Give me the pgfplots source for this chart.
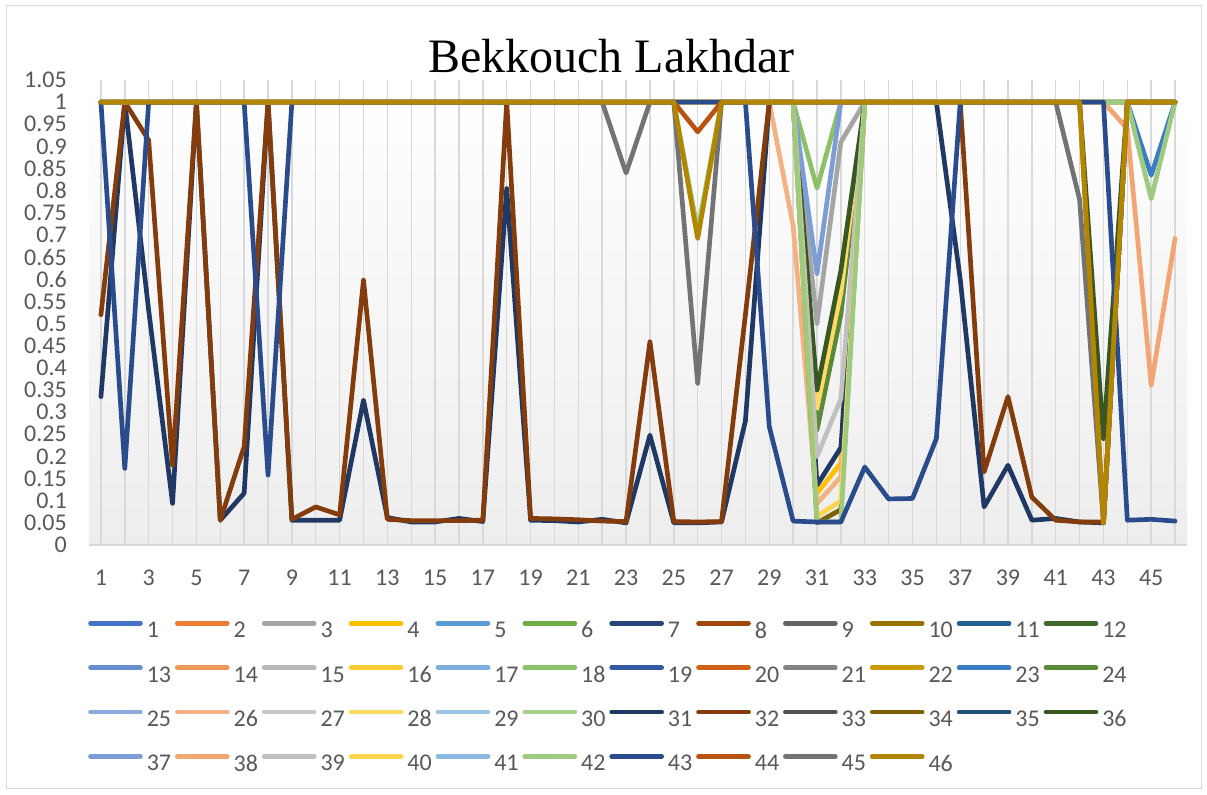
\documentclass[border=0pt]{standalone}
\usepackage{pgfplots}
\pgfplotsset{compat=1.18}
\usepackage{pgfplotstable}
\usepackage{fontspec}
\setmainfont{Carlito}
\newfontfamily\titlefont{Liberation Serif}
\definecolor{c1}{HTML}{4472C4}\definecolor{c2}{HTML}{ED7D31}\definecolor{c3}{HTML}{A5A5A5}
\definecolor{c4}{HTML}{FFC000}\definecolor{c5}{HTML}{5B9BD5}\definecolor{c6}{HTML}{70AD47}
\definecolor{c7}{HTML}{264478}\definecolor{c8}{HTML}{9E480E}\definecolor{c9}{HTML}{636363}
\definecolor{c10}{HTML}{997300}\definecolor{c11}{HTML}{255E91}\definecolor{c12}{HTML}{43682B}
\definecolor{c13}{HTML}{698ED0}\definecolor{c14}{HTML}{F1975A}\definecolor{c15}{HTML}{B7B7B7}
\definecolor{c16}{HTML}{FFCD33}\definecolor{c17}{HTML}{7CAFDD}\definecolor{c18}{HTML}{8CC168}
\definecolor{c19}{HTML}{335AA1}\definecolor{c20}{HTML}{D26012}\definecolor{c21}{HTML}{848484}
\definecolor{c22}{HTML}{CC9A00}\definecolor{c23}{HTML}{3A7DC2}\definecolor{c24}{HTML}{5A8A39}
\definecolor{c25}{HTML}{8FAADC}\definecolor{c26}{HTML}{F4B183}\definecolor{c27}{HTML}{C9C9C9}
\definecolor{c28}{HTML}{FFD966}\definecolor{c29}{HTML}{9DC3E6}\definecolor{c30}{HTML}{A9D18E}
\definecolor{c31}{HTML}{203864}\definecolor{c32}{HTML}{843C0C}\definecolor{c33}{HTML}{525252}
\definecolor{c34}{HTML}{7F6000}\definecolor{c35}{HTML}{1F4E79}\definecolor{c36}{HTML}{385723}
\definecolor{c37}{HTML}{7C9DD6}\definecolor{c38}{HTML}{F3A673}\definecolor{c39}{HTML}{C0C0C0}
\definecolor{c40}{HTML}{FFD44F}\definecolor{c41}{HTML}{8BB9E2}\definecolor{c42}{HTML}{9DCA7E}
\definecolor{c43}{HTML}{2B4C8C}\definecolor{c44}{HTML}{B85410}\definecolor{c45}{HTML}{737373}
\definecolor{c46}{HTML}{B38600}
\definecolor{gridc}{HTML}{D9D9D9}
\definecolor{tickc}{HTML}{595959}

\pgfplotstableread{
x y
1 1
2 1
3 1
4 1
5 1
6 1
7 1
8 1
9 1
10 1
11 1
12 1
13 1
14 1
15 1
16 1
17 1
18 1
19 1
20 1
21 1
22 1
23 1
24 1
25 1
26 1
27 1
28 1
29 1
30 1
31 1
32 1
33 1
34 1
35 1
36 1
37 1
38 1
39 1
40 1
41 1
42 1
43 1
44 1
45 1
46 1
}\ones

\begin{document}
\begin{tikzpicture}
\path[use as bounding box] (0,0) rectangle (905.25pt,595.5pt);
\fill[white] (0,0) rectangle (905.25pt,595.5pt);
\draw[gridc, line width=0.75pt] (4.5pt,4.5pt) rectangle (900.75pt,591pt);
\node[font=\titlefont\fontsize{36pt}{40pt}\selectfont, anchor=base] at (458.6pt,540.75pt) {Bekkouch Lakhdar};
\begin{axis}[
  at={(66.75pt,186.75pt)}, anchor=south west,
  scale only axis, width=823.5pt, height=348.75pt,
  xmin=0.5, xmax=46.5, ymin=0, ymax=1.05,
  axis x line*=bottom, axis y line*=left,
  x axis line style={draw=gridc, line width=1.1pt, -},
  y axis line style={draw=none, -},
  xtick={1,3,...,45}, minor xtick={2,4,...,46},
  xticklabels={1,3,5,7,9,11,13,15,17,19,21,23,25,27,29,31,33,35,37,39,41,43,45},
  ytick={0,0.05,0.1,0.15,0.2,0.25,0.3,0.35,0.4,0.45,0.5,0.55,0.6,0.65,0.7,0.75,0.8,0.85,0.9,0.95,1,1.05},
  yticklabels={0,0.05,0.1,0.15,0.2,0.25,0.3,0.35,0.4,0.45,0.5,0.55,0.6,0.65,0.7,0.75,0.8,0.85,0.9,0.95,1,1.05},
  xmajorgrids, xminorgrids,
  major grid style={draw=gridc, line width=1.1pt},
  minor grid style={draw=gridc, line width=1.1pt},
  major tick length=0pt, minor tick length=0pt, tick style={draw=none},
  tick label style={font=\fontsize{18pt}{21pt}\selectfont, text=tickc},
  yticklabel style={anchor=east, inner sep=0pt, xshift=-16.5pt},
  xticklabel style={anchor=north, inner sep=0pt, yshift=-18.75pt},
  axis background/.style={top color=white, bottom color=black!7},
  every axis plot/.append style={line width=3.5pt, line join=round, line cap=round},
  legend columns=12,
  legend cell align=left,
  legend image code/.code={\draw[#1, line width=3.5pt, line cap=round] (0pt,5.7pt) -- (37.5pt,5.7pt);},
  legend style={at={(axis description cs:-0.001,-0.1586)}, anchor=north west,
    draw=none, fill=none, inner sep=0pt,
    font=\fontsize{18pt}{21pt}\selectfont, text=tickc,
    row sep=15.5pt, nodes={inner sep=2pt},
    /tikz/every odd column/.append style={column sep=1pt},
    /tikz/every even column/.append style={column sep=0.9pt}},
  legend entries={1,2,3,4,5,6,7,8,9,10,11,12,13,14,15,16,17,18,19,20,21,22,23,24,25,26,27,28,29,30,31,32,33,34,35,36,37,38,39,40,41,42,43,44,45,46},
]
% 1-2
\addplot[c1] table {\ones};
\addplot[c2] table {\ones};
% 3
\addplot[c3] coordinates {(1,1)(2,1)(3,1)(4,1)(5,1)(6,1)(7,1)(8,1)(9,1)(10,1)
(11,1)(12,1)(13,1)(14,1)(15,1)(16,1)(17,1)(18,1)(19,1)(20,1)
(21,1)(22,1)(23,1)(24,1)(25,1)(26,1)(27,1)(28,1)(29,1)(30,1)
(31,0.50)(32,0.91)(33,1)(34,1)(35,1)(36,1)(37,1)(38,1)(39,1)(40,1)
(41,1)(42,1)(43,1)(44,1)(45,1)(46,1)};
% 4
\addplot[c4] coordinates {(1,1)(2,1)(3,1)(4,1)(5,1)(6,1)(7,1)(8,1)(9,1)(10,1)
(11,1)(12,1)(13,1)(14,1)(15,1)(16,1)(17,1)(18,1)(19,1)(20,1)
(21,1)(22,1)(23,1)(24,1)(25,1)(26,1)(27,1)(28,1)(29,1)(30,1)
(31,0.117)(32,0.185)(33,1)(34,1)(35,1)(36,1)(37,1)(38,1)(39,1)(40,1)
(41,1)(42,1)(43,1)(44,1)(45,1)(46,1)};
% 5-17
\addplot[c5] table {\ones};
\addplot[c6] table {\ones};
\addplot[c7] table {\ones};
\addplot[c8] table {\ones};
\addplot[c9] table {\ones};
\addplot[c10] table {\ones};
\addplot[c11] table {\ones};
\addplot[c12] table {\ones};
\addplot[c13] table {\ones};
\addplot[c14] table {\ones};
\addplot[c15] table {\ones};
\addplot[c16] table {\ones};
\addplot[c17] table {\ones};
% 18
\addplot[c18] coordinates {(1,1)(2,1)(3,1)(4,1)(5,1)(6,1)(7,1)(8,1)(9,1)(10,1)
(11,1)(12,1)(13,1)(14,1)(15,1)(16,1)(17,1)(18,1)(19,1)(20,1)
(21,1)(22,1)(23,1)(24,1)(25,1)(26,1)(27,1)(28,1)(29,1)(30,1)
(31,0.806)(32,1)(33,1)(34,1)(35,1)(36,1)(37,1)(38,1)(39,1)(40,1)
(41,1)(42,1)(43,1)(44,1)(45,1)(46,1)};
% 19-22
\addplot[c19] table {\ones};
\addplot[c20] table {\ones};
\addplot[c21] table {\ones};
\addplot[c22] table {\ones};
% 23
\addplot[c23] coordinates {(1,1)(2,1)(3,1)(4,1)(5,1)(6,1)(7,1)(8,1)(9,1)(10,1)
(11,1)(12,1)(13,1)(14,1)(15,1)(16,1)(17,1)(18,1)(19,1)(20,1)
(21,1)(22,1)(23,1)(24,1)(25,1)(26,1)(27,1)(28,1)(29,1)(30,1)
(31,1)(32,1)(33,1)(34,1)(35,1)(36,1)(37,1)(38,1)(39,1)(40,1)
(41,1)(42,1)(43,1)(44,1)(45,0.835)(46,1)};
% 24
\addplot[c24] coordinates {(1,1)(2,1)(3,1)(4,1)(5,1)(6,1)(7,1)(8,1)(9,1)(10,1)
(11,1)(12,1)(13,1)(14,1)(15,1)(16,1)(17,1)(18,1)(19,1)(20,1)
(21,1)(22,1)(23,1)(24,1)(25,1)(26,1)(27,1)(28,1)(29,1)(30,1)
(31,0.26)(32,0.52)(33,1)(34,1)(35,1)(36,1)(37,1)(38,1)(39,1)(40,1)
(41,1)(42,1)(43,1)(44,1)(45,1)(46,1)};
% 25
\addplot[c25] table {\ones};
% 26
\addplot[c26] coordinates {(1,1)(2,1)(3,1)(4,1)(5,1)(6,1)(7,1)(8,1)(9,1)(10,1)
(11,1)(12,1)(13,1)(14,1)(15,1)(16,1)(17,1)(18,1)(19,1)(20,1)
(21,1)(22,1)(23,1)(24,1)(25,1)(26,1)(27,1)(28,1)(29,1)(30,0.72)
(31,0.094)(32,0.154)(33,1)(34,1)(35,1)(36,1)(37,1)(38,1)(39,1)(40,1)
(41,1)(42,1)(43,1)(44,1)(45,1)(46,1)};
% 27
\addplot[c27] table {\ones};
% 28
\addplot[c28] coordinates {(1,1)(2,1)(3,1)(4,1)(5,1)(6,1)(7,1)(8,1)(9,1)(10,1)
(11,1)(12,1)(13,1)(14,1)(15,1)(16,1)(17,1)(18,1)(19,1)(20,1)
(21,1)(22,1)(23,1)(24,1)(25,1)(26,1)(27,1)(28,1)(29,1)(30,1)
(31,0.31)(32,0.57)(33,1)(34,1)(35,1)(36,1)(37,1)(38,1)(39,1)(40,1)
(41,1)(42,1)(43,1)(44,1)(45,1)(46,1)};
% 29-30
\addplot[c29] table {\ones};
\addplot[c30] table {\ones};
% 31
\addplot[c31] coordinates {(1,0.335)(2,1)(3,0.53)(4,0.094)(5,1)(6,0.056)(7,0.117)(8,1)(9,0.056)(10,0.056)
(11,0.056)(12,0.327)(13,0.062)(14,0.052)(15,0.052)(16,0.06)(17,0.053)(18,0.805)(19,0.056)(20,0.055)
(21,0.052)(22,0.058)(23,0.05)(24,0.248)(25,0.05)(26,0.05)(27,0.052)(28,0.28)(29,1)(30,1)
(31,0.135)(32,0.22)(33,1)(34,1)(35,1)(36,1)(37,0.6)(38,0.086)(39,0.18)(40,0.056)
(41,0.06)(42,0.052)(43,0.05)(44,1)(45,1)(46,1)};
% 32
\addplot[c32] coordinates {(1,0.52)(2,1)(3,0.914)(4,0.18)(5,1)(6,0.056)(7,0.222)(8,1)(9,0.058)(10,0.086)
(11,0.068)(12,0.598)(13,0.058)(14,0.055)(15,0.055)(16,0.055)(17,0.056)(18,1)(19,0.06)(20,0.059)
(21,0.057)(22,0.054)(23,0.053)(24,0.459)(25,0.053)(26,0.052)(27,0.053)(28,0.52)(29,1)(30,1)
(31,1)(32,1)(33,1)(34,1)(35,1)(36,1)(37,1)(38,0.165)(39,0.335)(40,0.108)
(41,0.056)(42,0.052)(43,0.052)(44,1)(45,1)(46,1)};
% 33
\addplot[c33] table {\ones};
% 34
\addplot[c34] coordinates {(1,1)(2,1)(3,1)(4,1)(5,1)(6,1)(7,1)(8,1)(9,1)(10,1)
(11,1)(12,1)(13,1)(14,1)(15,1)(16,1)(17,1)(18,1)(19,1)(20,1)
(21,1)(22,1)(23,1)(24,1)(25,1)(26,1)(27,1)(28,1)(29,1)(30,1)
(31,0.05)(32,0.08)(33,1)(34,1)(35,1)(36,1)(37,1)(38,1)(39,1)(40,1)
(41,1)(42,1)(43,1)(44,1)(45,1)(46,1)};
% 35
\addplot[c35] table {\ones};
% 36
\addplot[c36] coordinates {(1,1)(2,1)(3,1)(4,1)(5,1)(6,1)(7,1)(8,1)(9,1)(10,1)
(11,1)(12,1)(13,1)(14,1)(15,1)(16,1)(17,1)(18,1)(19,1)(20,1)
(21,1)(22,1)(23,1)(24,1)(25,1)(26,1)(27,1)(28,1)(29,1)(30,1)
(31,0.35)(32,0.62)(33,1)(34,1)(35,1)(36,1)(37,1)(38,1)(39,1)(40,1)
(41,1)(42,1)(43,0.24)(44,1)(45,1)(46,1)};
% 37
\addplot[c37] coordinates {(1,1)(2,1)(3,1)(4,1)(5,1)(6,1)(7,1)(8,1)(9,1)(10,1)
(11,1)(12,1)(13,1)(14,1)(15,1)(16,1)(17,1)(18,1)(19,1)(20,1)
(21,1)(22,1)(23,1)(24,1)(25,1)(26,1)(27,1)(28,1)(29,1)(30,1)
(31,0.613)(32,1)(33,1)(34,1)(35,1)(36,1)(37,1)(38,1)(39,1)(40,1)
(41,1)(42,1)(43,1)(44,1)(45,1)(46,1)};
% 38
\addplot[c38] coordinates {(1,1)(2,1)(3,1)(4,1)(5,1)(6,1)(7,1)(8,1)(9,1)(10,1)
(11,1)(12,1)(13,1)(14,1)(15,1)(16,1)(17,1)(18,1)(19,1)(20,1)
(21,1)(22,1)(23,1)(24,1)(25,1)(26,1)(27,1)(28,1)(29,1)(30,1)
(31,1)(32,1)(33,1)(34,1)(35,1)(36,1)(37,1)(38,1)(39,1)(40,1)
(41,1)(42,1)(43,1)(44,0.94)(45,0.361)(46,0.692)};
% 39
\addplot[c39] coordinates {(1,1)(2,1)(3,1)(4,1)(5,1)(6,1)(7,1)(8,1)(9,1)(10,1)
(11,1)(12,1)(13,1)(14,1)(15,1)(16,1)(17,1)(18,1)(19,1)(20,1)
(21,1)(22,1)(23,1)(24,1)(25,1)(26,1)(27,1)(28,1)(29,1)(30,1)
(31,0.2)(32,0.33)(33,1)(34,1)(35,1)(36,1)(37,1)(38,1)(39,1)(40,1)
(41,1)(42,1)(43,1)(44,1)(45,1)(46,1)};
% 40
\addplot[c40] coordinates {(1,1)(2,1)(3,1)(4,1)(5,1)(6,1)(7,1)(8,1)(9,1)(10,1)
(11,1)(12,1)(13,1)(14,1)(15,1)(16,1)(17,1)(18,1)(19,1)(20,1)
(21,1)(22,1)(23,1)(24,1)(25,1)(26,1)(27,1)(28,1)(29,1)(30,1)
(31,0.065)(32,0.10)(33,1)(34,1)(35,1)(36,1)(37,1)(38,1)(39,1)(40,1)
(41,1)(42,1)(43,1)(44,1)(45,1)(46,1)};
% 41
\addplot[c41] table {\ones};
% 42
\addplot[c42] coordinates {(1,1)(2,1)(3,1)(4,1)(5,1)(6,1)(7,1)(8,1)(9,1)(10,1)
(11,1)(12,1)(13,1)(14,1)(15,1)(16,1)(17,1)(18,1)(19,1)(20,1)
(21,1)(22,1)(23,1)(24,1)(25,1)(26,0.71)(27,1)(28,1)(29,1)(30,1)
(31,0.052)(32,0.052)(33,1)(34,1)(35,1)(36,1)(37,1)(38,1)(39,1)(40,1)
(41,1)(42,1)(43,1)(44,1)(45,0.782)(46,1)};
% 43
\addplot[c43] coordinates {(1,1)(2,0.173)(3,1)(4,1)(5,1)(6,1)(7,1)(8,0.158)(9,1)(10,1)
(11,1)(12,1)(13,1)(14,1)(15,1)(16,1)(17,1)(18,1)(19,1)(20,1)
(21,1)(22,1)(23,1)(24,1)(25,1)(26,1)(27,1)(28,1)(29,0.267)(30,0.054)
(31,0.052)(32,0.052)(33,0.176)(34,0.104)(35,0.105)(36,0.24)(37,1)(38,1)(39,1)(40,1)
(41,1)(42,1)(43,1)(44,0.056)(45,0.058)(46,0.054)};
% 44
\addplot[c44] coordinates {(1,1)(2,1)(3,1)(4,1)(5,1)(6,1)(7,1)(8,1)(9,1)(10,1)
(11,1)(12,1)(13,1)(14,1)(15,1)(16,1)(17,1)(18,1)(19,1)(20,1)
(21,1)(22,1)(23,1)(24,1)(25,1)(26,0.933)(27,1)(28,1)(29,1)(30,1)
(31,1)(32,1)(33,1)(34,1)(35,1)(36,1)(37,1)(38,1)(39,1)(40,1)
(41,1)(42,1)(43,0.05)(44,1)(45,1)(46,1)};
% 45
\addplot[c45] coordinates {(1,1)(2,1)(3,1)(4,1)(5,1)(6,1)(7,1)(8,1)(9,1)(10,1)
(11,1)(12,1)(13,1)(14,1)(15,1)(16,1)(17,1)(18,1)(19,1)(20,1)
(21,1)(22,1)(23,0.84)(24,1)(25,1)(26,0.365)(27,1)(28,1)(29,1)(30,1)
(31,1)(32,1)(33,1)(34,1)(35,1)(36,1)(37,1)(38,1)(39,1)(40,1)
(41,1)(42,0.78)(43,0.05)(44,1)(45,1)(46,1)};
% 46
\addplot[c46] coordinates {(1,1)(2,1)(3,1)(4,1)(5,1)(6,1)(7,1)(8,1)(9,1)(10,1)
(11,1)(12,1)(13,1)(14,1)(15,1)(16,1)(17,1)(18,1)(19,1)(20,1)
(21,1)(22,1)(23,1)(24,1)(25,1)(26,0.692)(27,1)(28,1)(29,1)(30,1)
(31,1)(32,1)(33,1)(34,1)(35,1)(36,1)(37,1)(38,1)(39,1)(40,1)
(41,1)(42,1)(43,0.05)(44,1)(45,1)(46,1)};
\end{axis}
\end{tikzpicture}
\end{document}
